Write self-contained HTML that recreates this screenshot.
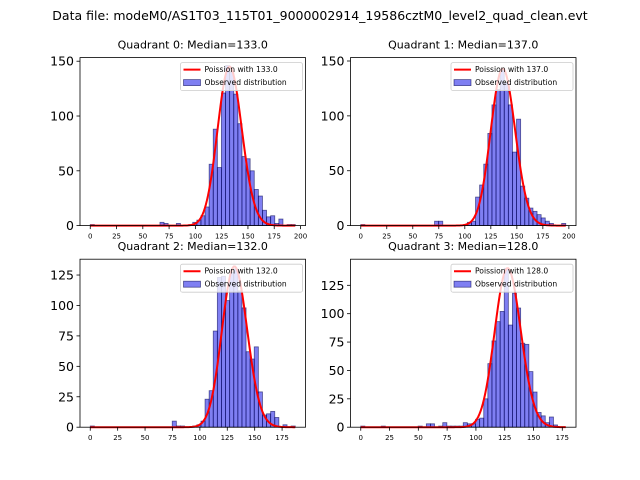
<!DOCTYPE html>
<html><head><meta charset="utf-8"><style>
body{margin:0;background:#fff;}
svg{display:block;font-family:"DejaVu Sans","Liberation Sans",sans-serif;}
</style></head><body>
<svg id="fig" width="640" height="480" viewBox="0 0 640 480">
<text x="320" y="20" text-anchor="middle" font-size="12.5">Data file: modeM0/AS1T03_115T01_9000002914_19586cztM0_level2_quad_clean.evt</text>
</svg>
<script>
// Quadrant 0
const q0Counts=[1,0,0,0,0,0,0,0,0,0,0,0,0,0,0,0,0,3,2,0,0,2,0,0,1,3,5,9,17,56,88,53,121,146,140,120,93,63,61,50,33,27,14,8,9,2,6,0,1,1];
const q0Median=133.0, q0Max=195, q0Peak=145, q0YTicks=[0,50,100,150], q0XTicks=[0,25,50,75,100,125,150,175,200];
// Quadrant 1
const q1Counts=[1,0,0,0,0,0,0,0,0,0,0,0,0,0,0,0,0,0,4,4,0,0,0,0,0,1,3,4,26,37,56,84,110,124,142,130,110,67,97,36,25,16,13,10,7,4,2,0,0,2];
const q1Median=137.0, q1Max=197, q1Peak=143, q1YTicks=[0,50,100,150], q1XTicks=[0,25,50,75,100,125,150,175,200];
// Quadrant 2
const q2Counts=[1,0,0,0,0,0,0,0,0,0,0,0,0,0,0,0,0,0,0,0,5,1,1,0,0,1,2,5,23,30,79,123,124,104,127,130,112,98,62,56,66,29,10,11,13,8,0,2,0,1];
const q2Median=132.0, q2Max=187, q2Peak=132, q2YTicks=[0,25,50,75,100,125], q2XTicks=[0,25,50,75,100,125,150,175];
// Quadrant 3
const q3Counts=[1,0,0,0,0,1,0,0,0,0,0,0,0,0,1,0,3,3,0,1,4,1,1,1,1,4,3,3,7,8,25,56,76,93,102,140,90,118,105,74,73,49,31,13,10,4,9,2,0,0];
const q3Median=128.0, q3Max=178, q3Peak=140, q3YTicks=[0,25,50,75,100,125], q3XTicks=[0,25,50,75,100,125,150,175];

const NS="http://www.w3.org/2000/svg";
const fig=document.getElementById('fig');
function mk(tag,attrs,parent){const e=document.createElementNS(NS,tag);for(const k in attrs)e.setAttribute(k,attrs[k]);(parent||fig).appendChild(e);return e;}
function logPois(k,l){let s=0;for(let i=2;i<=k;i++)s+=Math.log(i);return k*Math.log(l)-l-s;}

const quads=[
 {c:q0Counts,m:q0Median,max:q0Max,pk:q0Peak,yt:q0YTicks,xt:q0XTicks,x0:80,y0:57.6,ymax:153.1},
 {c:q1Counts,m:q1Median,max:q1Max,pk:q1Peak,yt:q1YTicks,xt:q1XTicks,x0:350.5,y0:57.6,ymax:153.1},
 {c:q2Counts,m:q2Median,max:q2Max,pk:q2Peak,yt:q2YTicks,xt:q2XTicks,x0:80,y0:259.2,ymax:138},
 {c:q3Counts,m:q3Median,max:q3Max,pk:q3Peak,yt:q3YTicks,xt:q3XTicks,x0:350.5,y0:259.2,ymax:148}
];
const W=225.5,H=168;
quads.forEach((q,qi)=>{
  const g=mk('g',{});
  
  
  const xmin=-0.05*q.max, xmax=q.max*1.05;
  const ymaxV=Math.max(q.ymax, Math.max(...q.c)*1.05);
  const sx=v=>q.x0+(v-xmin)/(xmax-xmin)*W;
  const sy=v=>q.y0+H-v/ymaxV*H;
  const w=q.max/q.c.length;
  const t=mk('text',{x:q.x0+W/2,y:q.y0-9,'text-anchor':'middle','font-size':'11'},g);
  t.textContent='Quadrant '+qi+': Median='+q.m.toFixed(1);
  
  
  q.c.forEach((v,i)=>{
    if(v<=0)return;
    const r=mk('rect',{x:sx(i*w),y:sy(v),width:sx(w)-sx(0),height:sy(0)-sy(v),fill:'rgba(0,0,230,0.5)',stroke:'rgba(0,0,80,0.6)','stroke-width':'0.8'},g);
    
    
  });
  const peakP=Math.exp(logPois(Math.floor(q.m),q.m));
  let d='';
  for(let k=0;k<=Math.ceil(q.max);k++){
    const y=q.pk*Math.exp(logPois(k,q.m))/peakP;
    d+=(k?'L':'M')+sx(k).toFixed(2)+','+sy(y).toFixed(2);
  }
  const p=mk('path',{d:d,fill:'none',stroke:'#ff0000','stroke-width':'2'},g);
  
  
  const ax=mk('rect',{x:q.x0,y:q.y0,width:W,height:H,fill:'none',stroke:'#000','stroke-width':'0.8'},g);
  
  
  q.yt.forEach(v=>{
    mk('line',{x1:q.x0-3.5,x2:q.x0,y1:sy(v),y2:sy(v),stroke:'#000','stroke-width':'0.8'},g);
    const tt=mk('text',{x:q.x0-6,y:sy(v)+4.5,'text-anchor':'end','font-size':'12.5'},g);
    tt.textContent=v;
    
    
  });
  q.xt.forEach(v=>{
    mk('line',{x1:sx(v),x2:sx(v),y1:q.y0+H,y2:q.y0+H+3.5,stroke:'#000','stroke-width':'0.8'},g);
    const tt=mk('text',{x:sx(v),y:q.y0+H+13,'text-anchor':'middle','font-size':'7'},g);
    tt.textContent=v;
    
    
  });
  const lg=mk('g',{},g);
  
  
  const lx=q.x0+W-125, ly=q.y0+5;
  mk('rect',{x:lx,y:ly,width:122,height:28,fill:'#fff','fill-opacity':'0.8',stroke:'#ccc','stroke-width':'0.8',rx:'2'},lg);
  mk('line',{x1:lx+3,x2:lx+20,y1:ly+7,y2:ly+7,stroke:'#ff0000','stroke-width':'2'},lg);
  const l1=mk('text',{x:lx+24,y:ly+9.5,'font-size':'7.6'},lg);
  l1.textContent='Poission with '+q.m.toFixed(1);
  
  
  mk('rect',{x:lx+3,y:ly+17,width:17,height:6,fill:'rgba(0,0,230,0.5)',stroke:'rgba(0,0,80,0.6)','stroke-width':'0.8'},lg);
  const l2=mk('text',{x:lx+24,y:ly+22.5,'font-size':'7.6'},lg);
  l2.textContent='Observed distribution';
  
  
});
</script>
</body></html>
